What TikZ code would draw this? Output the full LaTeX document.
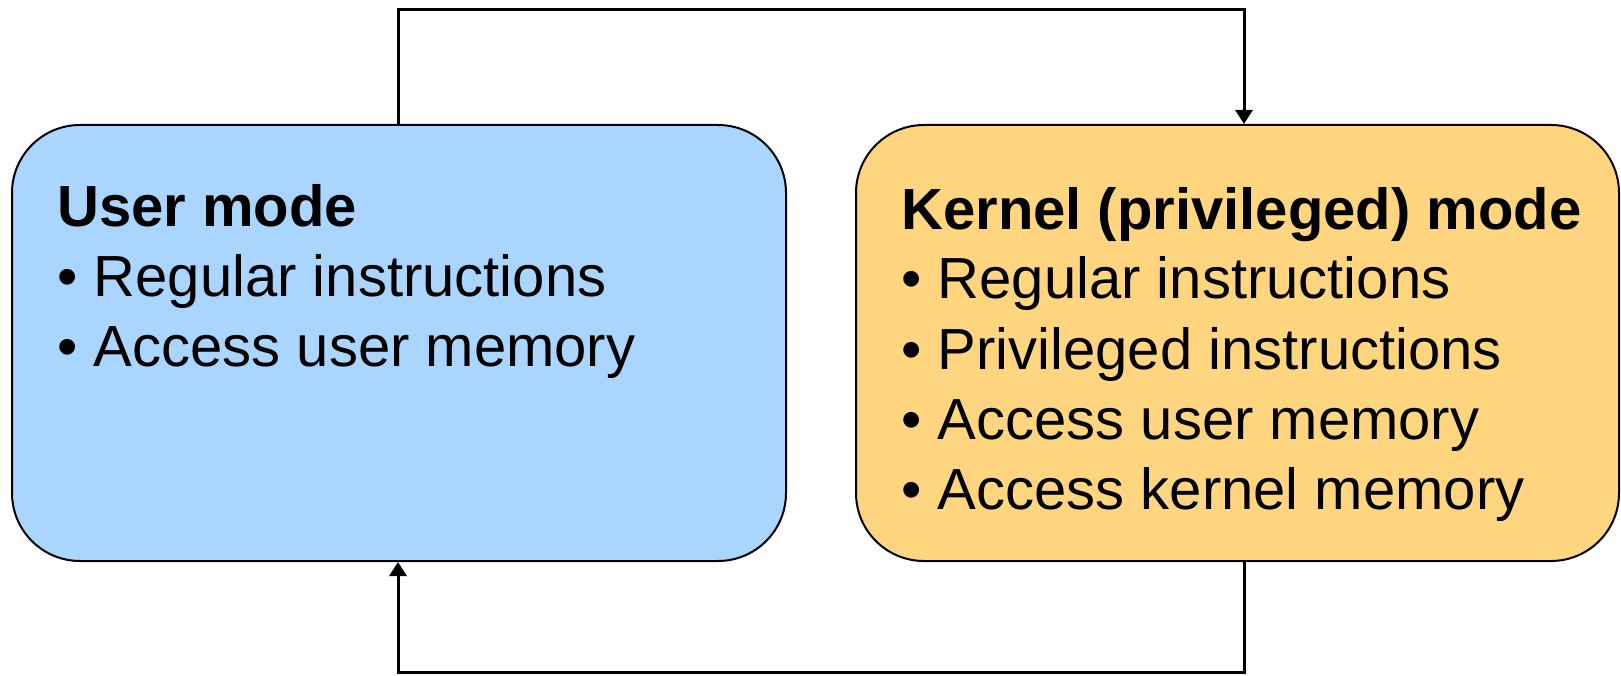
\documentclass[tikz,border=0pt]{standalone}
\usepackage{fontspec}
\setmainfont{Liberation Sans}
\usetikzlibrary{arrows.meta}

\definecolor{userblue}{RGB}{170,213,255}
\definecolor{kernelorange}{RGB}{255,214,127}

\begin{document}
\begin{tikzpicture}[x=0.5pt,y=0.5pt,
  modebox/.style={draw, line width=1pt, rounded corners=34pt, minimum height=218pt, inner sep=0pt},
  modetext/.style={anchor=base west, align=left, inner sep=0pt, font=\fontsize{29}{35}\selectfont},
  switch/.style={line width=1.5pt, -{Triangle[length=7pt,width=8.5pt]}}]

\useasboundingbox (0,0) rectangle (1621,675);

\node[modebox, fill=userblue, minimum width=387pt] (user) at (399,332) {};
\node[modebox, fill=kernelorange, minimum width=381.5pt] (kernel) at (1237.5,332) {};

% base of the last line
\node[modetext] (usertext) at (57,308) {\textbf{User mode}\\• Regular instructions\\• Access user memory};
\node[modetext] (kerneltext) at (901,166) {\textbf{Kernel (privileged) mode}\\• Regular instructions\\• Privileged instructions\\• Access user memory\\• Access kernel memory};

\coordinate (topL) at (398,665);
\coordinate (topR) at (1244,665);
\coordinate (botL) at (398,3);
\coordinate (botR) at (1244,3);

\draw[switch] (user.north -| topL) -- (topL) -- (topR) -- (kernel.north -| topR);
\draw[switch] (kernel.south -| botR) -- (botR) -- (botL) -- (user.south -| botL);

\end{tikzpicture}
\end{document}
